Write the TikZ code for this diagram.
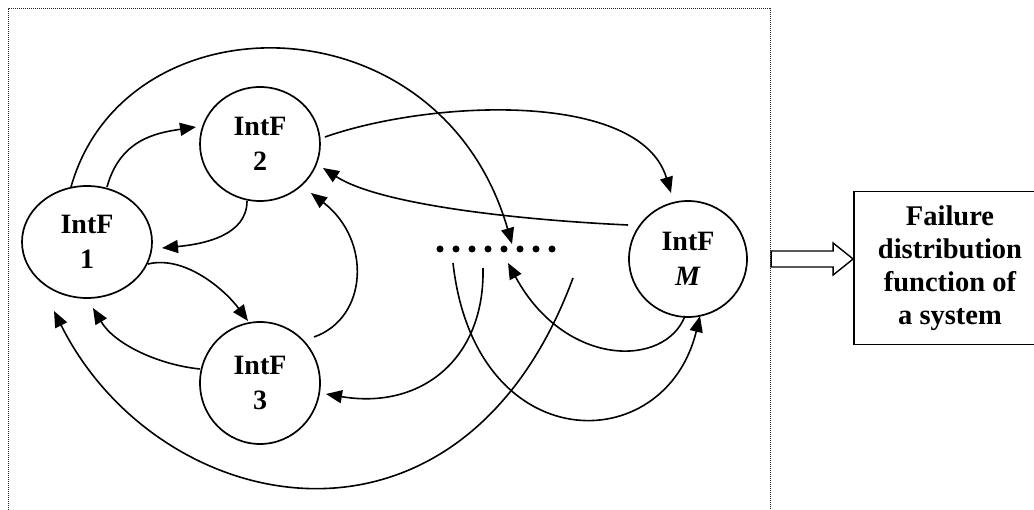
\documentclass[tikz,border=0pt]{standalone}
\usepackage{fontspec}
\setmainfont{Liberation Serif}
\usetikzlibrary{arrows.meta,shapes.geometric,calc}
\begin{document}
\begin{tikzpicture}[x=1pt,y=-1pt,
  intf/.style={ellipse,draw,line width=1.7pt,inner sep=0pt,align=center,
    font=\fontsize{28}{35}\selectfont\bfseries},
  link/.style={line width=1.6pt,-{Triangle[length=16pt,width=13pt]}},
  frame/.style={line width=1pt,black!85,dash pattern=on 1pt off 1pt},
  outbox/.style={draw,line width=1.7pt,align=center,
    font=\fontsize{28.5}{33}\selectfont\bfseries},
  hollow/.style={draw,line width=1.4pt,fill=white,line join=miter}]
\useasboundingbox (0,0) rectangle (1034,510);

% subsystem frame (open at the bottom)
\draw[frame] (8,510) -- (8,9) -- (770,9) -- (770,510);

% interface failure nodes
\node[intf,minimum width=130pt,minimum height=112pt] (n1) at (87,242) {IntF\\1};
\node[intf,minimum width=120pt,minimum height=114pt] (n2) at (260,144) {IntF\\2};
\node[intf,minimum width=120pt,minimum height=122pt] (n3) at (260,383) {IntF\\3};
\node[intf,minimum width=118pt,minimum height=116pt] (nM) at (688,259) {IntF\\\textit{M}};

% ellipsis for the remaining nodes
\node[inner sep=0pt,minimum width=120pt,minimum height=8pt] (dots) at (496,249) {};
\foreach \k in {0,...,7}
  \fill ($(dots.center)+(-56+16*\k,0)$) circle (3.5pt);

% result box (its right side runs past the edge)
\node[outbox,minimum width=192pt,minimum height=153pt] (fdf) at (950,268)
  {Failure\\distribution\\function of\\a system};

% connections
\draw[link] ($(n1)+(-16,-55)$) .. controls (125,-5) and (440,-5) .. ($(dots)+(16,-5)$);
\draw[link] ($(n1)+(20,-55)$) .. controls (120,140) and (155,133) .. ($(n2)+(-64,-17)$);
\draw[link] ($(n2)+(-13,57)$) .. controls (247,235) and (205,244) .. ($(n1)+(75,6)$);
\draw[link] ($(n1)+(61,22)$) .. controls (185,255) and (225,290) .. ($(n3)+(-12,-62)$);
\draw[link] ($(n3)+(-60,-14)$) .. controls (160,365) and (115,345) .. ($(n1)+(6,66)$);
\draw[link] ($(n3)+(54,-46)$) .. controls (368,318) and (372,240) .. ($(n2)+(51,49)$);
\draw[link] ($(n2)+(65,-7)$) .. controls (430,100) and (640,90) .. ($(nM)+(-17,-66)$);
\draw[link] ($(nM)+(-60,-34)$) .. controls (520,220) and (380,205) .. ($(n2)+(63,24)$);
\draw[link] ($(nM)+(-3,57)$) .. controls (665,368) and (565,368) .. ($(dots)+(12,14)$);
\draw[link] ($(dots)+(-43,14)$) .. controls (475,460) and (665,460) .. ($(nM)+(12,57)$);
\draw[link] ($(dots)+(-13,19)$) .. controls (485,360) and (420,410) .. ($(n3)+(66,11)$);
\draw[link] ($(dots)+(77,29)$) .. controls (460,583) and (158,519) .. ($(n1)+(-33,69)$);

% hollow output arrow
\coordinate (tip) at (fdf.west |- nM.center);
\draw[hollow] (tip) -- ++(-20,-16) -- ++(0,8) -- ++(-62,0) -- ++(0,16)
  -- ++(62,0) -- ++(0,8) -- cycle;
\end{tikzpicture}
\end{document}
